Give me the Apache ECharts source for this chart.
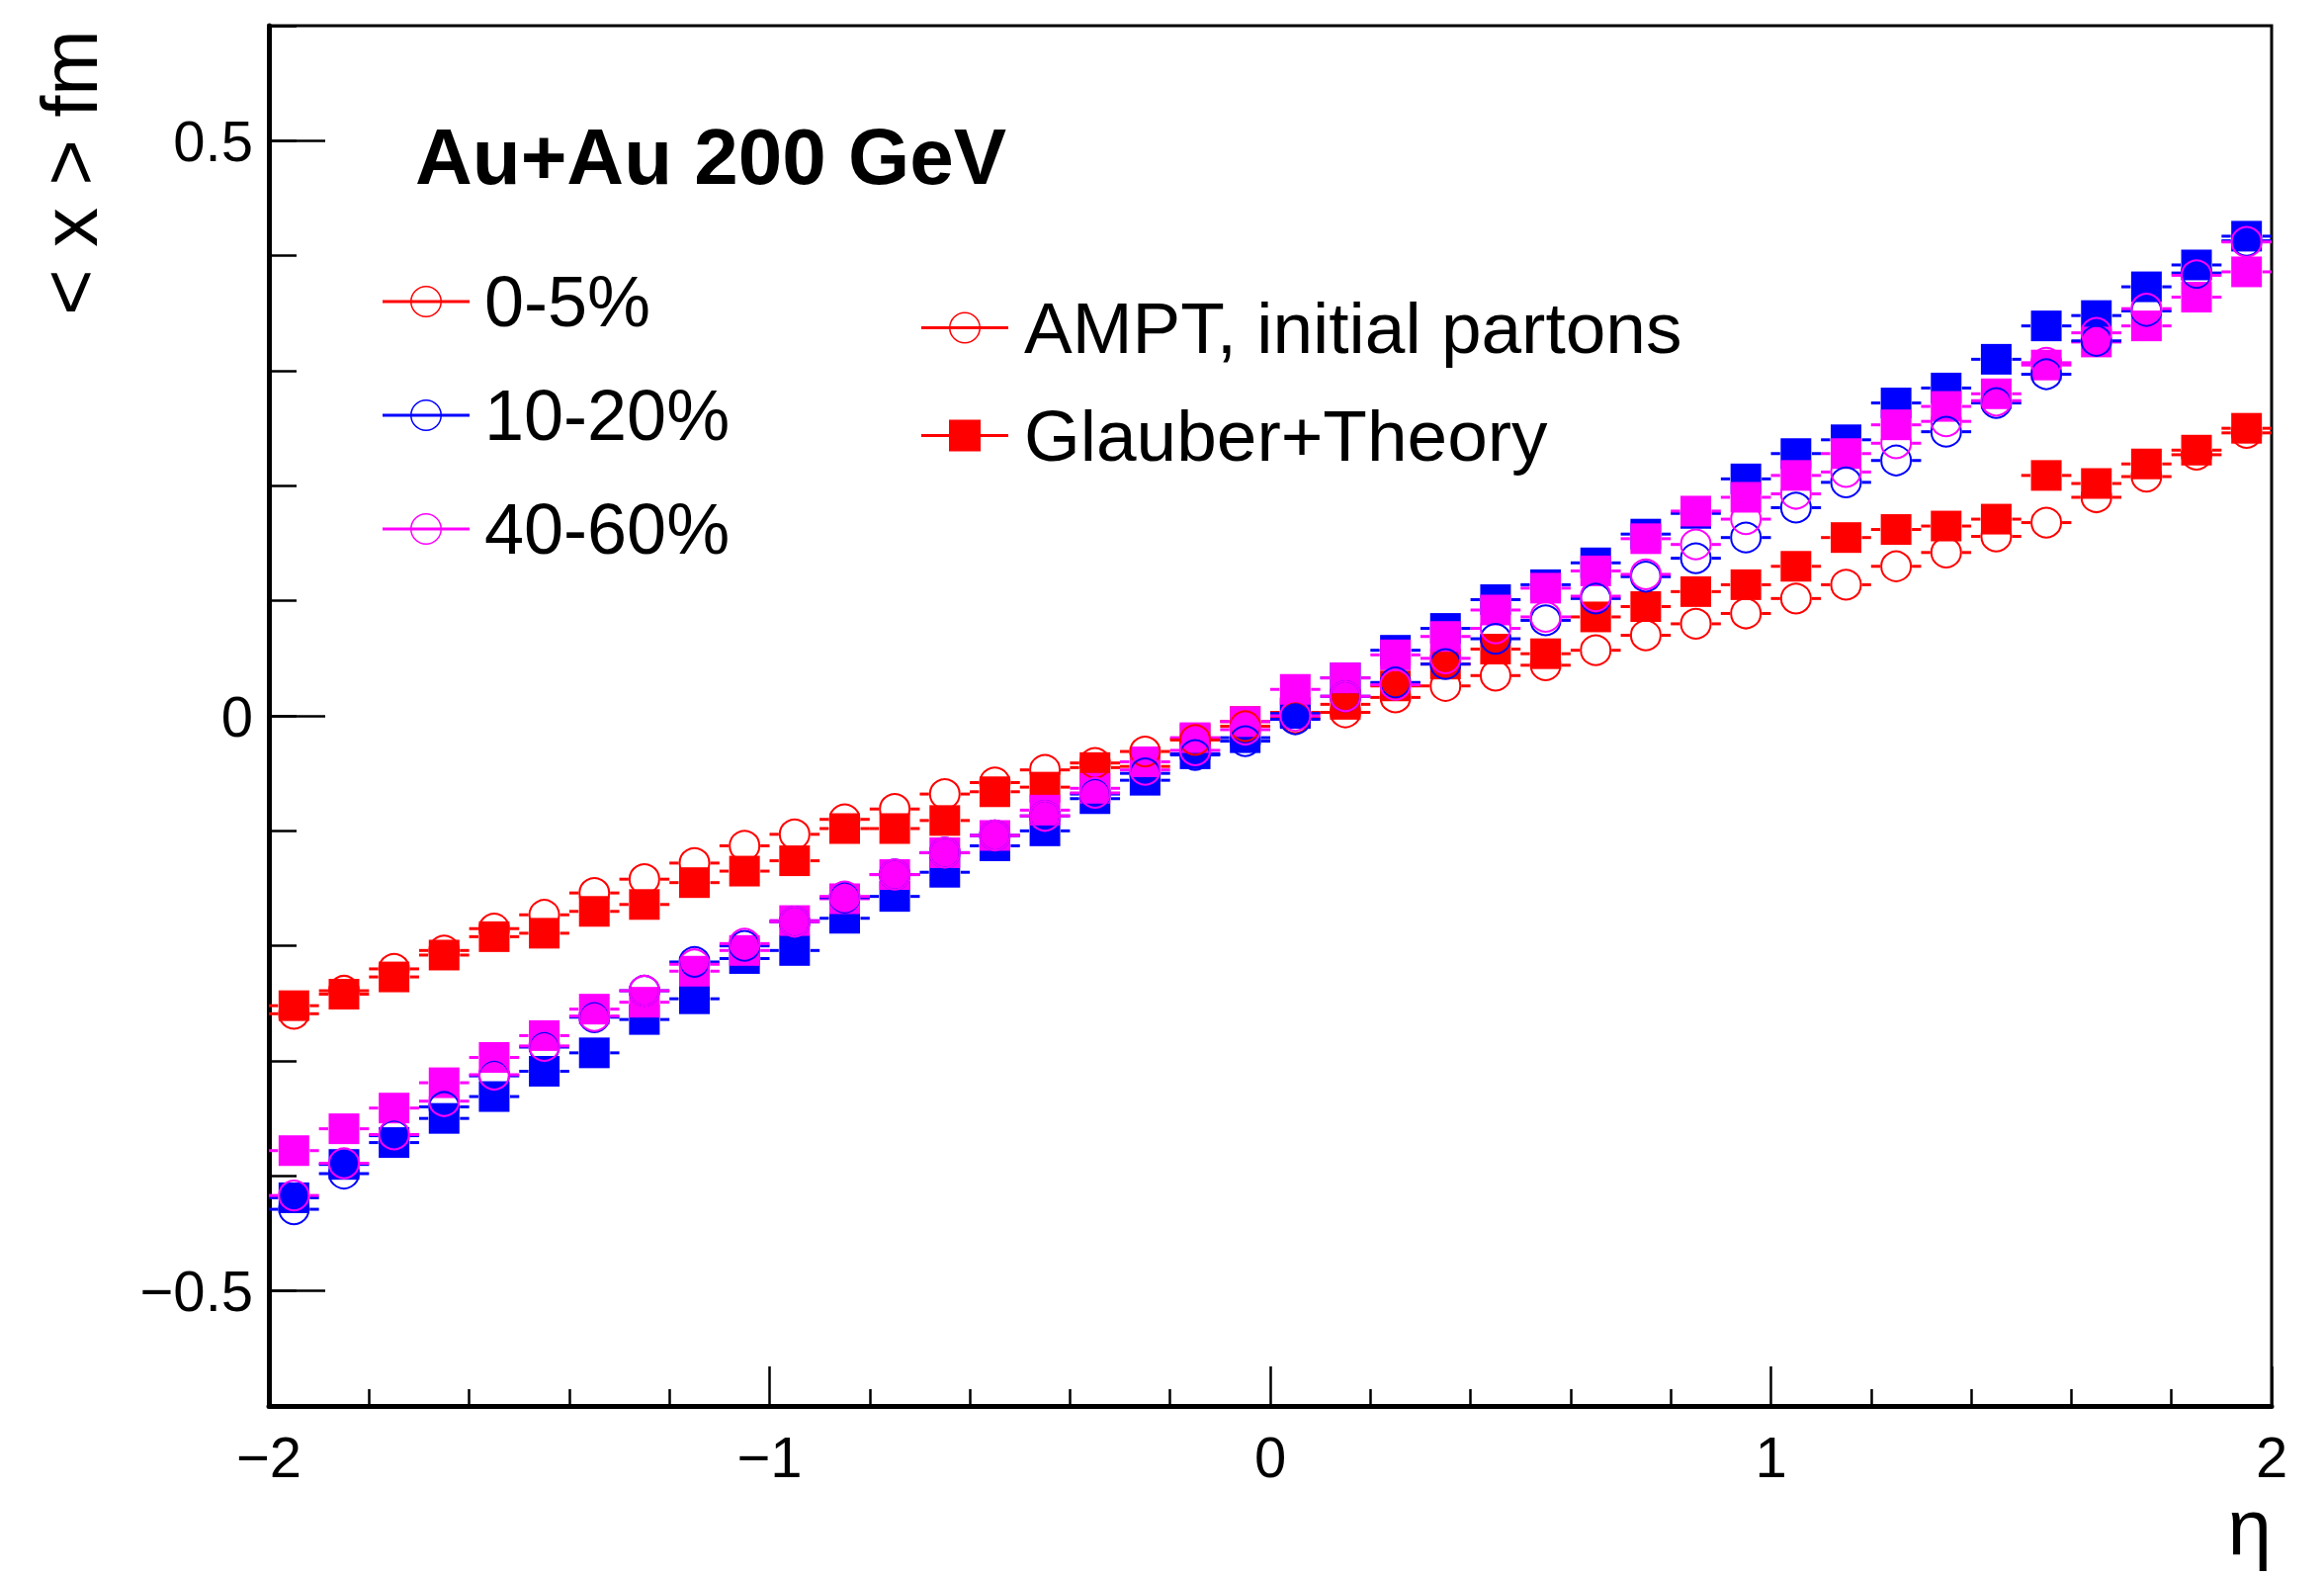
<!DOCTYPE html>
<html>
<head>
<meta charset="utf-8">
<script src="https://cdn.jsdelivr.net/npm/echarts@6/dist/echarts.min.js"></script>
<style>
  html, body { margin: 0; padding: 0; background: #fff; }
  #chart { width: 2351px; height: 1596px; }
</style>
</head>
<body>
<div id="chart"></div>
<script>
// eta bin centres (bin width 0.1)
const etaBins = [-1.95, -1.85, -1.75, -1.65, -1.55, -1.45, -1.35, -1.25, -1.15, -1.05,
  -0.95, -0.85, -0.75, -0.65, -0.55, -0.45, -0.35, -0.25, -0.15, -0.05,
  0.05, 0.15, 0.25, 0.35, 0.45, 0.55, 0.65, 0.75, 0.85, 0.95,
  1.05, 1.15, 1.25, 1.35, 1.45, 1.55, 1.65, 1.75, 1.85, 1.95];
const binWidth = 0.1;

// AMPT, initial partons (open circles)
const ampt0_5 = [-0.259, -0.239, -0.220, -0.204, -0.185, -0.173, -0.154, -0.142, -0.128, -0.113,
  -0.103, -0.090, -0.081, -0.068, -0.058, -0.047, -0.041, -0.031, -0.021, -0.009,
  -0.002, 0.003, 0.016, 0.026, 0.035, 0.044, 0.057, 0.070, 0.080, 0.089,
  0.102, 0.114, 0.130, 0.142, 0.156, 0.168, 0.190, 0.208, 0.227, 0.246];
const ampt10_20 = [-0.429, -0.398, -0.365, -0.340, -0.313, -0.288, -0.262, -0.239, -0.214, -0.200,
  -0.179, -0.158, -0.138, -0.119, -0.104, -0.087, -0.068, -0.050, -0.034, -0.022,
  -0.003, 0.017, 0.029, 0.045, 0.067, 0.083, 0.102, 0.121, 0.137, 0.155,
  0.181, 0.203, 0.222, 0.247, 0.272, 0.297, 0.326, 0.352, 0.385, 0.413];
const ampt40_60 = [-0.417, -0.389, -0.364, -0.335, -0.312, -0.287, -0.261, -0.239, -0.216, -0.198,
  -0.179, -0.157, -0.138, -0.119, -0.104, -0.087, -0.067, -0.047, -0.030, -0.012,
  0.000, 0.017, 0.027, 0.050, 0.076, 0.086, 0.104, 0.123, 0.149, 0.171,
  0.193, 0.212, 0.237, 0.256, 0.274, 0.307, 0.333, 0.354, 0.383, 0.412];

// Glauber+Theory (filled squares)
const glau0_5 = [-0.252, -0.242, -0.227, -0.208, -0.192, -0.189, -0.170, -0.164, -0.145, -0.135,
  -0.126, -0.098, -0.098, -0.091, -0.066, -0.062, -0.045, -0.044, -0.020, -0.005,
  0.003, 0.010, 0.026, 0.045, 0.058, 0.054, 0.086, 0.095, 0.108, 0.114,
  0.130, 0.155, 0.162, 0.165, 0.171, 0.209, 0.202, 0.219, 0.231, 0.250];
const glau10_20 = [-0.419, -0.390, -0.371, -0.350, -0.331, -0.309, -0.293, -0.264, -0.246, -0.211,
  -0.204, -0.176, -0.157, -0.136, -0.113, -0.100, -0.072, -0.056, -0.033, -0.019,
  0.002, 0.033, 0.057, 0.076, 0.101, 0.114, 0.133, 0.158, 0.176, 0.206,
  0.228, 0.240, 0.272, 0.285, 0.310, 0.339, 0.348, 0.373, 0.392, 0.417];
const glau40_60 = [-0.378, -0.359, -0.341, -0.319, -0.297, -0.278, -0.255, -0.249, -0.222, -0.204,
  -0.178, -0.159, -0.138, -0.119, -0.104, -0.082, -0.063, -0.040, -0.019, -0.005,
  0.023, 0.033, 0.053, 0.069, 0.092, 0.111, 0.126, 0.154, 0.178, 0.190,
  0.209, 0.228, 0.253, 0.269, 0.280, 0.305, 0.325, 0.339, 0.364, 0.386];

const yMajorTicks = [-0.5, 0, 0.5];

const FONT = '"Liberation Sans", Arial, Helvetica, sans-serif';
const RED = '#ff0000', BLUE = '#0000ff', MAGENTA = '#ff00ff';

// legend icons: line with open circle / line with filled square
const ringIcon = 'path://M0,14.5 L88,14.5 L88,17.5 L0,17.5 Z M60,16 A16,16 0 1 1 28,16 A16,16 0 1 1 60,16 Z M58.5,16 A14.5,14.5 0 1 0 29.5,16 A14.5,14.5 0 1 0 58.5,16 Z';
const squareIcon = 'path://M0,14.5 L88,14.5 L88,17.5 L0,17.5 Z M28,0 L60,0 L60,32 L28,32 Z';

function minusFmt(v) {
  const s = String(Math.round(v * 100) / 100);
  return v < 0 ? '\u2212' + s.slice(1) : s;
}

// marker + horizontal error bar (bin width), ROOT style
function histSeries(name, vals, color, shape) {
  return {
    type: 'custom',
    name: name,
    xAxisIndex: 0,
    yAxisIndex: 0,
    data: etaBins.map((e, i) => [e, vals[i]]),
    renderItem: function (params, api) {
      const c = api.coord([api.value(0), api.value(1)]);
      const half = api.size([binWidth, 0])[0] / 2;
      const gap = 16;
      const children = [
        { type: 'line', shape: { x1: c[0] - half, y1: c[1], x2: c[0] - gap, y2: c[1] },
          style: { stroke: color, lineWidth: 3 } },
        { type: 'line', shape: { x1: c[0] + gap, y1: c[1], x2: c[0] + half, y2: c[1] },
          style: { stroke: color, lineWidth: 3 } }
      ];
      if (shape === 'circle') {
        children.push({ type: 'circle', shape: { cx: c[0], cy: c[1], r: 15 },
          style: { fill: 'none', stroke: color, lineWidth: 2 } });
      } else {
        children.push({ type: 'rect', shape: { x: c[0] - 15.5, y: c[1] - 15.5, width: 31, height: 31 },
          style: { fill: color } });
      }
      return { type: 'group', children: children };
    }
  };
}

// empty series only used to feed the two legends
function legendSeries(name, color) {
  return { type: 'line', name: name, data: [], itemStyle: { color: color }, lineStyle: { color: color } };
}

const chart = echarts.init(document.getElementById('chart'), null, { renderer: 'svg' });

const option = {
  animation: false,
  backgroundColor: '#fff',
  grid: {
    left: 272, right: 53, top: 26, bottom: 174,
    show: true, borderColor: '#000', borderWidth: 3, backgroundColor: 'transparent'
  },
  xAxis: {
    type: 'value', min: -2, max: 2, interval: 1,
    axisLine: { onZero: false, lineStyle: { color: '#000', width: 5 } },
    axisTick: { inside: true, length: 40, lineStyle: { color: '#000', width: 2.5 } },
    minorTick: { show: true, splitNumber: 5, length: 17, lineStyle: { color: '#000', width: 2.5 } },
    axisLabel: { color: '#000', fontSize: 58, fontFamily: FONT, margin: 22,
      showMinLabel: true, showMaxLabel: true, formatter: minusFmt },
    splitLine: { show: false }
  },
  yAxis: [
    {
      type: 'value', min: -0.6, max: 0.6, position: 'left',
      axisLine: { onZero: false, lineStyle: { color: '#000', width: 5 } },
      axisTick: { inside: true, length: 57, customValues: yMajorTicks,
        lineStyle: { color: '#000', width: 2.5 } },
      axisLabel: { color: '#000', fontSize: 58, fontFamily: FONT, margin: 16,
        customValues: yMajorTicks, formatter: minusFmt },
      splitLine: { show: false }
    },
    {
      type: 'value', min: -0.6, max: 0.6, interval: 0.1, position: 'left',
      axisLine: { show: false, onZero: false },
      axisTick: { inside: true, length: 28, lineStyle: { color: '#000', width: 2.5 } },
      axisLabel: { show: false },
      splitLine: { show: false }
    }
  ],
  legend: [
    {
      orient: 'vertical', left: 382, top: 264,
      itemWidth: 88, itemHeight: 32, itemGap: 43,
      selectedMode: false,
      textStyle: { color: '#000', fontSize: 72, fontFamily: FONT, lineHeight: 72, padding: [0, 0, 0, 10] },
      data: [
        { name: '0-5%', icon: ringIcon },
        { name: '10-20%', icon: ringIcon },
        { name: '40-60%', icon: ringIcon }
      ]
    },
    {
      orient: 'vertical', left: 927, top: 290,
      itemWidth: 88, itemHeight: 32, itemGap: 36,
      selectedMode: false,
      textStyle: { color: '#000', fontSize: 73, fontFamily: FONT, lineHeight: 72, padding: [0, 0, 0, 11] },
      data: [
        { name: 'AMPT, initial partons', icon: ringIcon },
        { name: 'Glauber+Theory', icon: squareIcon }
      ]
    }
  ],
  graphic: [
    { type: 'text', x: 420, y: 158,
      style: { text: 'Au+Au 200 GeV', fill: '#000', fontSize: 80, fontWeight: 'bold',
        fontFamily: FONT, verticalAlign: 'middle' } },
    { type: 'text', x: 2298, y: 1544,
      style: { text: '\u03b7', fill: '#000', fontSize: 80, fontFamily: FONT,
        align: 'right', verticalAlign: 'middle' } },
    { type: 'text', x: 70, y: 30, rotation: Math.PI / 2,
      style: { text: '< x > fm', fill: '#000', fontSize: 80, fontFamily: FONT,
        align: 'right', verticalAlign: 'middle' } }
  ],
  series: [
    histSeries('Glauber+Theory 0-5%', glau0_5, RED, 'square'),
    histSeries('Glauber+Theory 10-20%', glau10_20, BLUE, 'square'),
    histSeries('Glauber+Theory 40-60%', glau40_60, MAGENTA, 'square'),
    histSeries('AMPT 0-5%', ampt0_5, RED, 'circle'),
    histSeries('AMPT 10-20%', ampt10_20, BLUE, 'circle'),
    histSeries('AMPT 40-60%', ampt40_60, MAGENTA, 'circle'),
    legendSeries('0-5%', RED),
    legendSeries('10-20%', BLUE),
    legendSeries('40-60%', MAGENTA),
    legendSeries('AMPT, initial partons', RED),
    legendSeries('Glauber+Theory', RED)
  ]
};

chart.setOption(option);
</script>
</body>
</html>
